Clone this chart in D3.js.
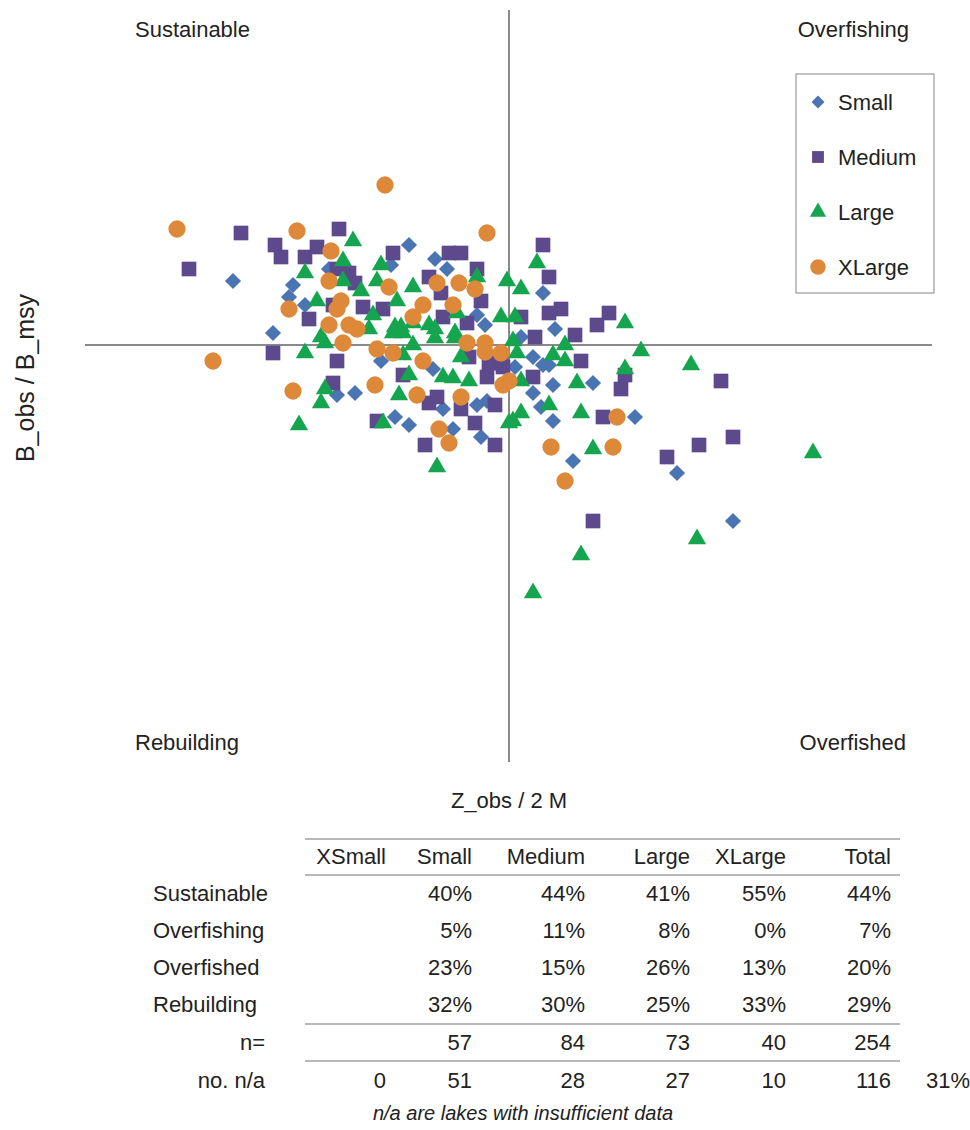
<!DOCTYPE html>
<html lang="en">
<head>
    <meta charset="utf-8">
    <title>Lake status</title>
    <script src="https://d3js.org/d3.v7.min.js" charset="utf-8"></script>
    <style type="text/css">
        body {
            margin: 0;
            background: #fff;
            font-family: "Liberation Sans", Arial, sans-serif;
        }
    </style>
</head>
<body>
    <script type="text/javascript">
        // points: [Z_obs/2M, B_obs/B_msy]
        var smallPts = [
            [0.31,1.16],[0.55,1.19],[0.46,1.15],[0.45,1.12],[0.49,1.10],[0.41,1.03],[0.57,0.875],
            [0.75,1.25],[0.705,1.20],[0.815,1.215],[0.845,1.19],[0.92,1.075],[0.94,1.05],[0.68,0.96],
            [0.81,0.94],[0.615,0.88],[0.835,0.84],[0.92,0.85],[0.945,0.86],[0.715,0.82],[0.75,0.80],
            [0.86,0.79],[0.93,0.77],[1.085,1.13],[1.115,1.04],[1.03,1.02],[1.06,0.97],[1.085,0.95],
            [1.10,0.95],[1.015,0.945],[1.11,0.90],[1.21,0.905],[1.06,0.88],[1.08,0.845],[1.11,0.81],
            [1.315,0.82],[1.16,0.71],[1.42,0.68],[1.56,0.56]
        ];
        var mediumPts = [
            [0.20,1.19],[0.33,1.28],[0.415,1.25],[0.43,1.22],[0.49,1.22],[0.52,1.245],[0.575,1.29],
            [0.50,1.065],[0.56,1.10],[0.41,0.98],[0.57,0.96],[0.56,0.905],[0.71,1.23],[0.85,1.23],
            [0.88,1.23],[0.57,1.19],[0.60,1.18],[0.615,1.155],[0.80,1.17],[0.92,1.19],[0.83,1.13],
            [0.93,1.11],[0.635,1.095],[0.685,1.09],[0.835,1.07],[0.895,1.055],[0.90,0.97],[0.95,0.955],
            [0.98,0.955],[0.735,0.925],[0.945,0.92],[0.80,0.855],[0.82,0.87],[0.88,0.84],[0.965,0.85],
            [0.67,0.81],[0.915,0.805],[0.79,0.75],[0.965,0.75],[1.085,1.25],[1.10,1.17],[1.10,1.08],
            [1.13,1.09],[1.03,1.07],[1.22,1.05],[1.25,1.08],[1.165,1.025],[1.065,1.02],[1.18,0.96],
            [0.985,0.945],[1.29,0.925],[1.06,0.92],[1.28,0.89],[1.235,0.82],[1.395,0.72],[1.53,0.91],
            [1.475,0.75],[1.56,0.77],[1.21,0.56]
        ];
        var largePts = [
            [0.49,1.18],[0.52,1.11],[0.53,1.02],[0.54,1.005],[0.49,0.98],[0.54,0.89],[0.53,0.855],
            [0.475,0.80],[0.61,1.26],[0.585,1.21],[0.68,1.20],[0.585,1.16],[0.67,1.16],[0.76,1.145],
            [0.92,1.17],[0.995,1.16],[0.63,1.135],[0.72,1.11],[0.66,1.075],[0.87,1.08],[0.98,1.07],
            [0.715,1.045],[0.73,1.045],[0.80,1.05],[0.65,1.04],[0.71,1.03],[0.735,1.03],[0.76,1.055],
            [0.815,1.04],[0.815,1.0175],[0.865,1.03],[0.865,1.0175],[0.76,1.0],[0.735,0.975],
            [0.88,0.97],[0.75,0.925],[0.835,0.92],[0.86,0.9175],[0.90,0.91],[0.725,0.875],[0.685,0.805],
            [0.82,0.695],[1.0,0.805],[1.07,1.205],[1.03,1.14],[1.015,1.07],[1.29,1.055],[1.01,1.01],
            [1.14,1.0],[1.33,0.985],[1.02,0.98],[1.11,0.975],[1.14,0.96],[1.29,0.94],[1.03,0.91],
            [1.17,0.905],[1.10,0.85],[1.03,0.83],[1.01,0.81],[1.18,0.83],[1.21,0.74],[1.18,0.475],
            [1.06,0.38],[1.455,0.95],[1.76,0.73],[1.47,0.515]
        ];
        var xlargePts = [
            [0.17,1.29],[0.47,1.285],[0.555,1.235],[0.55,1.16],[0.45,1.09],[0.55,1.05],[0.26,0.96],
            [0.46,0.885],[0.69,1.40],[0.945,1.28],[0.70,1.145],[0.82,1.155],[0.875,1.155],[0.915,1.14],
            [0.58,1.11],[0.785,1.10],[0.86,1.10],[0.57,1.09],[0.76,1.07],[0.60,1.05],[0.62,1.04],
            [0.585,1.005],[0.67,0.99],[0.71,0.98],[0.895,1.005],[0.94,1.005],[0.94,0.9825],[0.98,0.98],
            [0.785,0.96],[0.985,0.90],[0.665,0.90],[0.77,0.875],[0.88,0.87],[0.825,0.79],[0.85,0.755],
            [1.0,0.91],[1.27,0.82],[1.105,0.745],[1.26,0.745],[1.14,0.66]
        ];

        var seriesNames = ["Small", "Medium", "Large", "XLarge"];
        var quadrantLabels = ["Sustainable", "Overfishing", "Rebuilding", "Overfished"];

        // table
        var tableCols = ["XSmall", "Small", "Medium", "Large", "XLarge", "Total"];
        var tableRows = ["Sustainable", "Overfishing", "Overfished", "Rebuilding"];
        var sustainablePct = [null, 40, 44, 41, 55, 44];
        var overfishingPct = [null, 5, 11, 8, 0, 7];
        var overfishedPct = [null, 23, 15, 26, 13, 20];
        var rebuildingPct = [null, 32, 30, 25, 33, 29];
        var nCounts = [null, 57, 84, 73, 40, 254];
        var naCounts = [0, 51, 28, 27, 10, 116];
        var naShare = "31%";
        var footnote = "n/a are lakes with insufficient data";

        var width = 970, height = 1130;
        var svg = d3.select("body").append("svg")
            .attr("width", width)
            .attr("height", height);

        var x = d3.scaleLinear().domain([-0.06, 2.0575]).range([85, 932]);
        var y = d3.scaleLinear().domain([-0.0425, 1.8375]).range([762, 10]);

        var colors = {Small: "#4a74b2", Medium: "#5c4a8c", Large: "#16a54f", XLarge: "#de8939"};
        var shapes = {
            Small: d3.symbol().type(d3.symbolSquare).size(130),
            Medium: d3.symbol().type(d3.symbolSquare).size(215),
            Large: d3.symbol().type(d3.symbolTriangle).size(145),
            XLarge: d3.symbol().type(d3.symbolCircle).size(235)
        };
        var rot = {Small: 45, Medium: 0, Large: 0, XLarge: 0};

        // quadrant lines
        svg.append("line")
            .attr("x1", x(1)).attr("x2", x(1))
            .attr("y1", y(1.8375)).attr("y2", y(-0.0425))
            .attr("stroke", "#8a8a8a").attr("stroke-width", 2);
        svg.append("line")
            .attr("x1", x(-0.06)).attr("x2", x(2.0575))
            .attr("y1", y(1)).attr("y2", y(1))
            .attr("stroke", "#8a8a8a").attr("stroke-width", 2);

        var pts = {Small: smallPts, Medium: mediumPts, Large: largePts, XLarge: xlargePts};
        seriesNames.forEach(function (s) {
            svg.append("g").selectAll("path")
                .data(pts[s])
                .enter()
                .append("path")
                .attr("d", shapes[s]())
                .attr("transform", function (d) {
                    return "translate(" + x(d[0]) + "," + y(d[1]) + ") rotate(" + rot[s] + ")";
                })
                .attr("fill", colors[s]);
        });

        // quadrant labels
        var qfont = 22;
        svg.append("text").text(quadrantLabels[0]).attr("x", 135).attr("y", 37)
            .attr("font-size", qfont).attr("fill", "#222");
        svg.append("text").text(quadrantLabels[1]).attr("x", 909).attr("y", 37)
            .attr("text-anchor", "end").attr("font-size", qfont).attr("fill", "#222");
        svg.append("text").text(quadrantLabels[2]).attr("x", 135).attr("y", 750)
            .attr("font-size", qfont).attr("fill", "#222");
        svg.append("text").text(quadrantLabels[3]).attr("x", 906).attr("y", 750)
            .attr("text-anchor", "end").attr("font-size", qfont).attr("fill", "#222");

        // axis titles
        svg.append("text").text("Z_obs / 2 M")
            .attr("x", 509).attr("y", 808)
            .attr("text-anchor", "middle").attr("font-size", 22).attr("fill", "#222");
        svg.append("text").text("B_obs /  B_msy")
            .attr("transform", "translate(34,378) rotate(-90)")
            .attr("text-anchor", "middle").attr("font-size", 25).attr("fill", "#222");

        // legend
        var legend = svg.append("g").attr("transform", "translate(796,74)");
        legend.append("rect")
            .attr("width", 138).attr("height", 219)
            .attr("fill", "#fff").attr("stroke", "#9a9a9a").attr("stroke-width", 1.2);
        var legShapes = {
            Small: d3.symbol().type(d3.symbolSquare).size(85),
            Medium: d3.symbol().type(d3.symbolSquare).size(140),
            Large: d3.symbol().type(d3.symbolTriangle).size(115),
            XLarge: d3.symbol().type(d3.symbolCircle).size(190)
        };
        seriesNames.forEach(function (s, i) {
            var g = legend.append("g").attr("transform", "translate(22," + (28 + i * 55) + ")");
            g.append("path").attr("d", legShapes[s]())
                .attr("transform", "rotate(" + rot[s] + ")")
                .attr("fill", colors[s]);
            g.append("text").text(s)
                .attr("x", 20).attr("y", 8)
                .attr("font-size", 22).attr("fill", "#222");
        });

        // table below the plot
        var colX = d3.scaleOrdinal().domain(tableCols).range([386, 472, 585, 690, 786, 891]);
        var tfont = 22;
        var rule = function (yy) {
            svg.append("line").attr("x1", 305).attr("x2", 900)
                .attr("y1", yy).attr("y2", yy)
                .attr("stroke", "#a0a0a0").attr("stroke-width", 1.5);
        };
        rule(839); rule(875); rule(1024); rule(1061);

        svg.append("g").selectAll("text")
            .data(tableCols)
            .enter()
            .append("text")
            .text(function (d) { return d; })
            .attr("x", function (d) { return colX(d); })
            .attr("y", 864)
            .attr("text-anchor", "end")
            .attr("font-size", tfont).attr("fill", "#222");

        var addRow = function (label, vals, yy, fmt, labelAnchorEnd) {
            svg.append("text").text(label)
                .attr("x", labelAnchorEnd ? 265 : 153).attr("y", yy)
                .attr("text-anchor", labelAnchorEnd ? "end" : "start")
                .attr("font-size", tfont).attr("fill", "#222");
            svg.append("g").selectAll("text")
                .data(vals.map(function (v, j) { return {v: v, col: tableCols[j]}; })
                          .filter(function (d) { return d.v !== null; }))
                .enter()
                .append("text")
                .text(function (d) { return fmt(d.v); })
                .attr("x", function (d) { return colX(d.col); })
                .attr("y", yy)
                .attr("text-anchor", "end")
                .attr("font-size", tfont).attr("fill", "#222");
        };
        var pct = function (v) { return v + "%"; };
        var num = function (v) { return String(v); };
        var rowVals = [sustainablePct, overfishingPct, overfishedPct, rebuildingPct];
        tableRows.forEach(function (r, i) {
            addRow(r, rowVals[i], 901 + i * 37, pct, false);
        });
        addRow("n=", nCounts, 1050, num, true);
        addRow("no. n/a", naCounts, 1088, num, true);
        svg.append("text").text(naShare)
            .attr("x", 970).attr("y", 1088)
            .attr("text-anchor", "end")
            .attr("font-size", tfont).attr("fill", "#222");

        svg.append("text").text(footnote)
            .attr("x", 523).attr("y", 1120)
            .attr("text-anchor", "middle")
            .attr("font-style", "italic")
            .attr("font-size", 20).attr("fill", "#222");
    </script>
</body>
</html>
